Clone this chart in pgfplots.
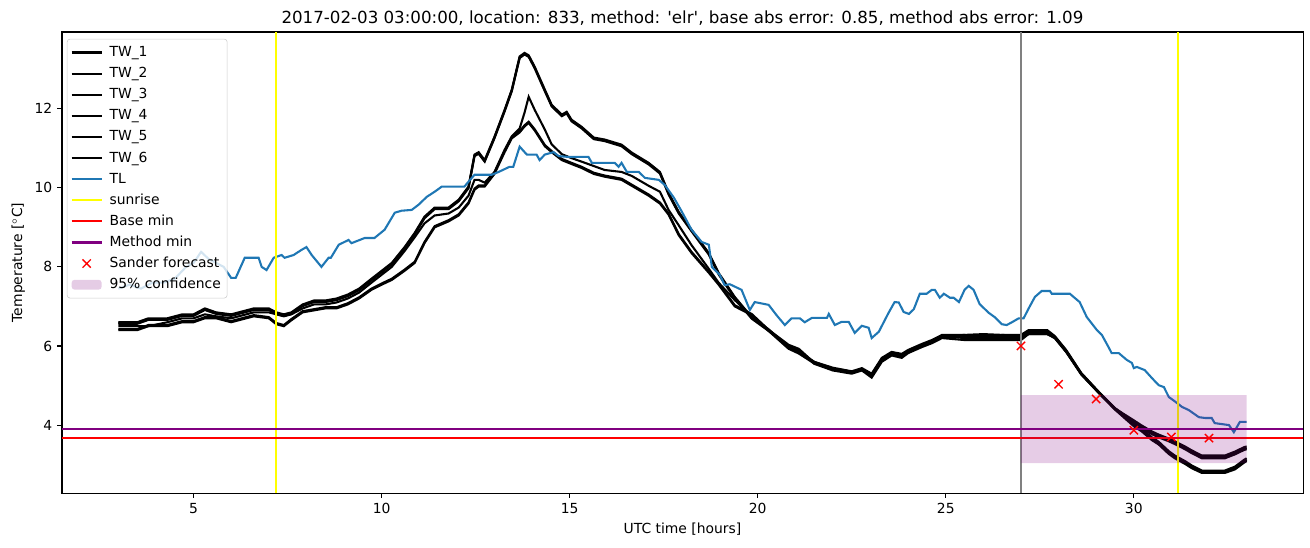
\documentclass[border=0pt]{standalone}
\usepackage{fontspec}
\setmainfont{DejaVu Sans}
\usepackage{pgfplots}
\pgfplotsset{compat=1.18}
\usepackage{pgfplotstable}
\definecolor{mplblue}{RGB}{31,119,180}
\definecolor{mplpurple}{RGB}{128,0,128}
\definecolor{mplgray}{RGB}{128,128,128}
\definecolor{mplyellow}{RGB}{255,255,0}
\definecolor{legframe}{RGB}{204,204,204}
\pgfplotsset{
  mylineleg/.style={legend image code/.code={\draw[##1] (0pt,0pt) -- (21.5pt,0pt);}},
  mymarkleg/.style={legend image code/.code={\draw[##1] plot coordinates {(10.75pt,0pt)};}},
  myarealeg/.style={legend image code/.code={\fill[##1] (0pt,-3.5pt) rectangle (21.5pt,3.5pt);}},
}

\pgfplotstableread{
x t1 t2 t3 t4 t5 t6
3.0 6.60 6.58 6.50 6.40 6.43 6.56
3.5 6.60 6.58 6.50 6.40 6.43 6.56
3.8 6.70 6.68 6.50 6.50 6.53 6.66
4.3 6.70 6.68 6.60 6.50 6.53 6.66
4.7 6.80 6.78 6.70 6.60 6.63 6.76
5.0 6.80 6.78 6.70 6.60 6.63 6.76
5.3 6.95 6.93 6.80 6.70 6.73 6.91
5.6 6.85 6.83 6.75 6.70 6.73 6.81
6.0 6.80 6.78 6.70 6.60 6.63 6.76
6.4 6.90 6.88 6.80 6.70 6.73 6.86
6.6 6.95 6.93 6.85 6.75 6.78 6.91
7.0 6.95 6.93 6.85 6.70 6.73 6.91
7.2 6.85 6.83 6.80 6.55 6.58 6.81
7.4 6.80 6.78 6.75 6.50 6.53 6.76
7.6 6.85 6.83 6.80 6.65 6.68 6.81
7.9 7.05 7.03 6.95 6.85 6.88 7.01
8.2 7.15 7.13 7.05 6.90 6.93 7.11
8.5 7.15 7.13 7.05 6.95 6.98 7.11
8.8 7.20 7.18 7.10 6.95 6.98 7.16
9.1 7.30 7.28 7.20 7.05 7.08 7.26
9.4 7.45 7.43 7.35 7.20 7.23 7.41
9.73 7.70 7.68 7.60 7.42 7.45 7.66
10.0 7.90 7.88 7.80 7.55 7.58 7.86
10.27 8.10 8.08 8.00 7.67 7.70 8.06
10.61 8.50 8.48 8.40 7.90 7.93 8.46
10.88 8.86 8.84 8.75 8.10 8.13 8.82
11.14 9.27 9.25 9.10 8.60 8.63 9.23
11.41 9.50 9.48 9.30 9.00 9.03 9.46
11.78 9.50 9.48 9.35 9.15 9.18 9.46
12.05 9.70 9.68 9.50 9.30 9.33 9.66
12.31 10.03 10.01 9.80 9.60 9.63 9.99
12.47 10.84 10.82 10.20 9.95 9.98 10.80
12.58 10.90 10.88 10.20 10.03 10.06 10.86
12.74 10.70 10.68 10.13 10.03 10.06 10.66
13.0 11.29 11.27 10.40 10.35 10.38 11.25
13.27 11.97 11.95 10.96 10.90 10.93 11.93
13.46 12.48 12.46 11.30 11.25 11.28 12.44
13.67 13.32 13.30 11.50 11.40 11.43 13.28
13.8 13.41 13.39 11.90 11.55 11.58 13.37
13.91 13.35 13.33 12.30 11.64 11.67 13.31
14.07 13.06 13.04 11.97 11.45 11.48 13.02
14.34 12.48 12.46 11.47 11.05 11.08 12.44
14.52 12.10 12.08 11.10 10.90 10.93 12.06
14.79 11.85 11.83 10.85 10.70 10.73 11.81
14.92 11.92 11.90 10.80 10.65 10.68 11.88
15.05 11.72 11.70 10.75 10.60 10.63 11.68
15.32 11.54 11.52 10.66 10.50 10.53 11.50
15.64 11.27 11.25 10.55 10.35 10.38 11.23
15.93 11.22 11.20 10.45 10.28 10.31 11.18
16.38 11.09 11.07 10.40 10.20 10.23 11.05
16.65 10.89 10.87 10.30 10.05 10.08 10.85
17.1 10.63 10.61 10.05 9.80 9.83 10.59
17.4 10.40 10.38 9.90 9.60 9.63 10.36
17.63 9.87 9.85 9.44 9.32 9.35 9.83
17.9 9.39 9.37 9.05 8.80 8.83 9.35
18.24 8.94 8.92 8.55 8.35 8.38 8.90
18.7 8.35 8.33 7.95 7.85 7.88 8.31
18.96 7.85 7.83 7.60 7.55 7.58 7.81
19.39 7.24 7.22 7.16 7.00 7.03 7.20
19.84 6.73 6.71 6.75 6.78 6.81 6.69
20.29 6.42 6.40 6.40 6.38 6.41 6.38
20.82 5.97 5.95 6.00 6.00 6.03 5.93
21.09 5.85 5.83 5.85 5.90 5.93 5.81
21.5 5.60 5.58 5.60 5.55 5.58 5.56
22.0 5.45 5.43 5.42 5.38 5.41 5.41
22.5 5.36 5.34 5.35 5.30 5.33 5.32
22.77 5.44 5.42 5.40 5.38 5.41 5.40
23.03 5.30 5.28 5.25 5.20 5.23 5.26
23.3 5.70 5.68 5.65 5.60 5.63 5.66
23.56 5.85 5.83 5.80 5.76 5.79 5.81
23.83 5.80 5.78 5.75 5.70 5.73 5.76
24.0 5.90 5.88 5.85 5.82 5.85 5.86
24.36 6.05 6.03 6.00 5.97 6.00 6.01
24.63 6.15 6.13 6.10 6.07 6.10 6.11
24.9 6.28 6.26 6.25 6.20 6.23 6.24
25.5 6.28 6.26 6.20 6.15 6.22 6.28
26.0 6.30 6.26 6.20 6.15 6.25 6.20
26.5 6.28 6.24 6.20 6.15 6.22 6.28
27.0 6.28 6.26 6.20 6.15 6.22 6.25
27.2 6.40 6.38 6.30 6.30 6.33 6.36
27.7 6.40 6.38 6.30 6.30 6.33 6.36
27.9 6.25 6.23 6.20 6.20 6.22 6.21
28.2 5.90 5.89 5.85 5.85 5.87 5.87
28.6 5.32 5.31 5.30 5.28 5.30 5.29
29.1 4.81 4.79 4.80 4.78 4.79 4.78
29.5 4.43 4.41 4.42 4.40 4.41 4.39
30.0 4.08 4.00 4.12 4.04 4.05 3.97
30.21 3.95 3.87 3.99 3.91 3.92 3.84
30.48 3.80 3.65 3.84 3.69 3.77 3.62
30.66 3.72 3.54 3.76 3.58 3.69 3.51
30.93 3.62 3.30 3.66 3.34 3.59 3.27
31.09 3.55 3.19 3.59 3.23 3.52 3.16
31.36 3.42 3.05 3.46 3.09 3.39 3.02
31.54 3.32 2.94 3.36 2.98 3.29 2.91
31.81 3.19 2.81 3.23 2.85 3.16 2.79
32.42 3.19 2.81 3.23 2.85 3.16 2.79
32.69 3.29 2.91 3.33 2.95 3.26 2.88
32.93 3.40 3.08 3.44 3.12 3.37 3.05
33.0 3.42 3.12 3.46 3.16 3.39 3.09
}\tw

\pgfplotstableread{
x y
3.0 7.45
3.3 7.55
3.6 7.45
3.9 7.6
4.2 7.6
4.5 7.7
4.8 8.0
5.0 8.1
5.2 8.38
5.4 8.2
5.6 8.1
5.8 8.0
6.0 7.72
6.12 7.72
6.36 8.23
6.73 8.23
6.81 8.0
6.94 7.92
7.13 8.23
7.34 8.3
7.42 8.23
7.66 8.3
7.87 8.43
8.0 8.5
8.14 8.3
8.4 8.0
8.59 8.23
8.65 8.23
8.86 8.56
9.12 8.68
9.2 8.6
9.55 8.73
9.81 8.73
10.08 8.94
10.35 9.37
10.53 9.42
10.8 9.44
10.98 9.57
11.2 9.77
11.41 9.9
11.6 10.03
12.2 10.03
12.47 10.33
12.93 10.33
13.11 10.4
13.4 10.53
13.5 10.53
13.67 11.04
13.86 10.84
14.12 10.84
14.2 10.7
14.34 10.84
14.57 10.9
14.71 10.8
14.97 10.78
15.5 10.78
15.59 10.63
16.2 10.63
16.3 10.53
16.38 10.63
16.52 10.4
16.84 10.4
17.0 10.25
17.37 10.2
17.53 10.07
17.77 9.75
17.98 9.4
18.24 8.94
18.51 8.63
18.7 8.56
18.78 8.0
18.99 7.8
19.12 7.54
19.26 7.56
19.57 7.42
19.79 6.91
19.92 7.11
20.29 7.04
20.5 6.78
20.72 6.53
20.9 6.7
21.12 6.7
21.25 6.6
21.44 6.71
21.84 6.71
21.89 6.81
22.05 6.53
22.23 6.61
22.42 6.61
22.58 6.33
22.77 6.51
22.95 6.46
23.03 6.2
23.22 6.36
23.48 6.84
23.64 7.11
23.75 7.1
23.88 6.86
24.02 6.81
24.15 6.93
24.31 7.32
24.49 7.32
24.63 7.42
24.71 7.42
24.84 7.22
24.95 7.32
25.11 7.22
25.21 7.22
25.35 7.11
25.5 7.42
25.61 7.52
25.74 7.42
25.9 7.06
26.14 6.84
26.3 6.73
26.49 6.55
26.62 6.53
26.76 6.6
26.94 6.7
27.07 6.7
27.21 6.96
27.37 7.24
27.55 7.39
27.77 7.39
27.82 7.32
28.3 7.32
28.56 7.11
28.75 6.73
29.02 6.4
29.15 6.28
29.34 5.95
29.41 5.82
29.6 5.82
29.81 5.65
29.95 5.57
30.0 5.44
30.08 5.47
30.29 5.39
30.48 5.19
30.66 5.01
30.8 4.96
30.93 4.71
31.09 4.6
31.28 4.46
31.46 4.38
31.73 4.2
31.89 4.18
32.07 4.18
32.15 4.05
32.53 4.0
32.66 3.82
32.82 4.08
33.0 4.08
}\tl

\begin{document}
\begin{tikzpicture}
\useasboundingbox (-44.6pt,-39pt) rectangle (898.5pt,355pt);
\begin{axis}[
  at={(0,0)}, anchor=south west,
  scale only axis, width=893.5pt, height=332pt,
  xmin=1.5, xmax=34.5, ymin=2.28, ymax=13.94,
  xtick={5,10,15,20,25,30}, ytick={4,6,8,10,12},
  tick align=outside, tick pos=left,
  major tick length=3.5pt,
  every tick/.style={black, line width=0.8pt},
  axis line style={line width=0.8pt},
  tick label style={font=\fontsize{10}{12}\selectfont},
  /pgf/number format/assume math mode=true,
  label style={font=\fontsize{10}{12}\selectfont},
  xlabel={UTC time [hours]},
  ylabel={Temperature [$^\circ$C]},
  title={2017-02-03 03:00:00, location: 833, method: \textquotesingle elr\textquotesingle, base abs error: 0.85, method abs error: 1.09},
  title style={font=\fontsize{12}{14}\selectfont, yshift=-4.8pt},
  legend cell align=left,
  legend style={at={(0.004,0.985)}, anchor=north west, draw=legframe,
    fill=white, fill opacity=0.8, draw opacity=1, text opacity=1,
    rounded corners=2pt, font=\fontsize{10}{12}\selectfont,
    row sep=1pt, inner sep=2.5pt,
    /tikz/every odd column/.append style={column sep=3pt},
    nodes={inner sep=2pt, text height=8pt, text depth=2.2pt}},
  mylineleg,
]
\addplot[black, line width=1.5pt] table[x=x, y=t1] {\tw};
\addlegendentry{TW\_1}
\addplot[black, line width=1.5pt] table[x=x, y=t2] {\tw};
\addlegendentry{TW\_2}
\addplot[black, line width=1.5pt] table[x=x, y=t3] {\tw};
\addlegendentry{TW\_3}
\addplot[black, line width=1.5pt] table[x=x, y=t4] {\tw};
\addlegendentry{TW\_4}
\addplot[black, line width=1.5pt] table[x=x, y=t5] {\tw};
\addlegendentry{TW\_5}
\addplot[black, line width=1.5pt] table[x=x, y=t6] {\tw};
\addlegendentry{TW\_6}
\addplot[mplblue, line width=1.5pt] table[x=x, y=y] {\tl};
\addlegendentry{TL}
\addplot[mplyellow, line width=1.5pt] coordinates {(7.18,2.28) (7.18,13.94)};
\addlegendentry{sunrise}
\addplot[mplyellow, line width=1.5pt, forget plot] coordinates {(31.17,2.28) (31.17,13.94)};
\addplot[mplgray, line width=1.5pt, forget plot] coordinates {(27.0,2.28) (27.0,13.94)};
\addplot[red, line width=1.5pt] coordinates {(1.5,3.67) (34.5,3.67)};
\addlegendentry{Base min}
\addplot[mplpurple, line width=1.5pt] coordinates {(1.5,3.90) (34.5,3.90)};
\addlegendentry{Method min}
\addplot[red, only marks, mark=x, mark size=4.2pt, mark options={line width=1.0pt}, mymarkleg]
  coordinates {(27,6.0) (28,5.03) (29,4.66) (30,3.87) (31,3.70) (32,3.67)};
\addlegendentry{Sander forecast}
\addplot[draw=none, fill=mplpurple, fill opacity=0.2, myarealeg]
  coordinates {(27,3.04) (33,3.04) (33,4.76) (27,4.76) (27,3.04)};
\addlegendentry{95\% confidence}
\end{axis}
\end{tikzpicture}
\end{document}
